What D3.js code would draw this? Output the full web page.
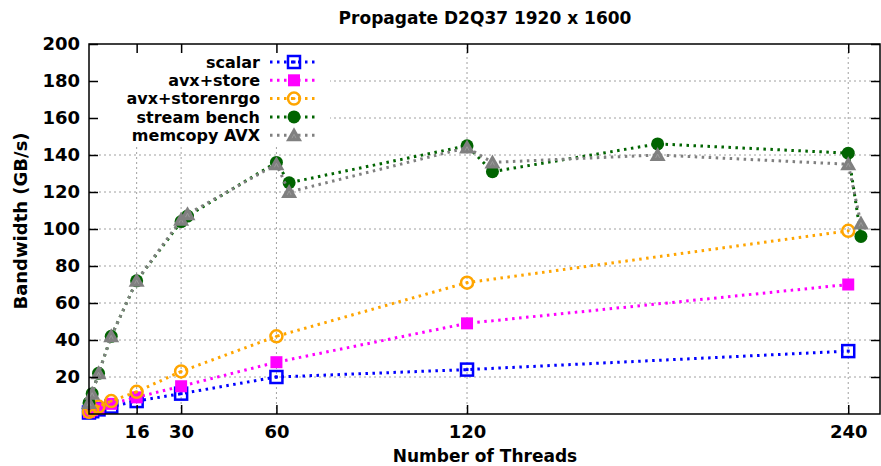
<!DOCTYPE html>
<html>
<head>
<meta charset="utf-8">
<script src="https://cdn.jsdelivr.net/npm/d3@7"></script>
<style>
  body { margin: 0; background: #fff; }
  text { font-family: "DejaVu Sans", Verdana, sans-serif; font-weight: bold; fill: #000; }
</style>
</head>
<body>
<svg id="svg" width="881" height="466"></svg>
<script>
// thread counts
const threadsLow = [1, 2, 4, 8, 16, 30, 60, 120, 240]
const threadsMem = [1, 2, 4, 8, 16, 30, 32, 60, 64, 120, 128, 180, 240, 244]

// bandwidth GB/s
const scalar = [0.8, 1.5, 2.5, 4, 7, 11, 20, 24, 34]
const avxStore = [1, 2, 3, 5.5, 9, 15, 28, 49, 70]
const avxStoreNrgo = [1.2, 2.3, 4, 7, 12, 23, 42, 71, 99]
const streamBench = [6, 11, 22, 42, 72, 104, 107, 136, 125, 145, 131, 146, 141, 96]
const memcopyAvx = [6, 11, 22, 42, 72, 105, 108, 135, 120, 144, 136, 140, 135, 103]

const xTicks = [16, 30, 60, 120, 240]
const yTicks = [20, 40, 60, 80, 100, 120, 140, 160, 180, 200]

const series = [
  { name: 'scalar', x: threadsLow, y: scalar, color: '#0000ff', marker: 'openSquare' },
  { name: 'avx+store', x: threadsLow, y: avxStore, color: '#ff00ff', marker: 'square' },
  { name: 'avx+storenrgo', x: threadsLow, y: avxStoreNrgo, color: '#ffa500', marker: 'openCircle' },
  { name: 'stream bench', x: threadsMem, y: streamBench, color: '#006400', marker: 'circle' },
  { name: 'memcopy AVX', x: threadsMem, y: memcopyAvx, color: '#808080', marker: 'triangle' }
]

const margin = { top: 44, right: 1, bottom: 52, left: 89 }
const width = 881
const height = 466

const xScale = d3.scaleLinear()
  .domain([1, 250])
  .range([margin.left, width - margin.right])

const yScale = d3.scaleLinear()
  .domain([0, 200])
  .range([height - margin.bottom, margin.top])

const svg = d3.select('#svg')

// grid
const grid = svg.append('g')
  .attr('stroke', '#a0a0a0')
  .attr('stroke-width', 1)
  .attr('stroke-dasharray', '2,3')
grid.selectAll('.hg')
  .data(yTicks.filter(d => d < 200))
  .enter()
  .append('line')
  .attr('x1', margin.left)
  .attr('x2', width - margin.right)
  .attr('y1', d => yScale(d))
  .attr('y2', d => yScale(d))
grid.selectAll('.vg')
  .data(xTicks)
  .enter()
  .append('line')
  .attr('x1', d => xScale(d))
  .attr('x2', d => xScale(d))
  .attr('y1', yScale(0))
  .attr('y2', yScale(200))

// legend background (opaque key)
const legend = svg.append('g')
legend.append('rect')
  .attr('x', margin.left + 1)
  .attr('y', margin.top + 1)
  .attr('width', 240)
  .attr('height', 100)
  .attr('fill', '#fff')

const drawMarker = (g, type, color) => {
  if (type === 'openSquare') {
    g.append('rect').attr('x', -6).attr('y', -6).attr('width', 12).attr('height', 12)
      .attr('fill', 'none').attr('stroke', color).attr('stroke-width', 2.5)
    g.append('rect').attr('x', -1.5).attr('y', -1.5).attr('width', 3).attr('height', 3).attr('fill', color)
  } else if (type === 'square') {
    g.append('rect').attr('x', -6).attr('y', -6).attr('width', 12).attr('height', 12).attr('fill', color)
  } else if (type === 'openCircle') {
    g.append('circle').attr('r', 6).attr('fill', 'none').attr('stroke', color).attr('stroke-width', 2.5)
    g.append('circle').attr('r', 1.5).attr('fill', color)
  } else if (type === 'circle') {
    g.append('circle').attr('r', 6.5).attr('fill', color)
  } else {
    g.append('path').attr('d', 'M0,-8L8,6L-8,6Z').attr('fill', color)
    g.append('path').attr('d', 'M-2,3L0,-1L2,3').attr('fill', 'none').attr('stroke', '#9a9a9a').attr('stroke-width', 1)
  }
}

const line = d3.line()
  .x(d => xScale(d[0]))
  .y(d => yScale(d[1]))

series.forEach(s => {
  const pts = s.x.map((t, i) => [t, s.y[i]])
  svg.append('path')
    .datum(pts)
    .attr('d', line)
    .attr('fill', 'none')
    .attr('stroke', s.color)
    .attr('stroke-width', 3)
    .attr('stroke-dasharray', '2.5,4.5')
  svg.append('g')
    .selectAll('g')
    .data(pts)
    .enter()
    .append('g')
    .attr('transform', d => `translate(${xScale(d[0])},${yScale(d[1])})`)
    .each(function () { drawMarker(d3.select(this), s.marker, s.color) })
})

// legend entries
series.forEach((s, i) => {
  const y = 62 + i * 18.3
  legend.append('text')
    .attr('x', 260)
    .attr('y', y)
    .attr('dy', '0.35em')
    .attr('text-anchor', 'end')
    .attr('font-size', 16)
    .text(s.name)
  legend.append('line')
    .attr('x1', 270).attr('x2', 318)
    .attr('y1', y).attr('y2', y)
    .attr('stroke', s.color)
    .attr('stroke-width', 3)
    .attr('stroke-dasharray', '2.5,4.5')
  drawMarker(legend.append('g').attr('transform', `translate(294,${y})`), s.marker, s.color)
})

// border
svg.append('rect')
  .attr('x', margin.left)
  .attr('y', margin.top)
  .attr('width', width - margin.right - margin.left)
  .attr('height', height - margin.bottom - margin.top)
  .attr('fill', 'none')
  .attr('stroke', '#000')
  .attr('stroke-width', 1.5)

// axes (ticks inward, mirrored)
const yAxis = d3.axisLeft(yScale).tickValues(yTicks).tickSize(-9).tickPadding(9)
const yAxisR = d3.axisRight(yScale).tickValues(yTicks).tickSize(-9).tickFormat('')
const xAxis = d3.axisBottom(xScale).tickValues(xTicks).tickSize(-9).tickPadding(11)
const xAxisT = d3.axisTop(xScale).tickValues(xTicks).tickSize(-9).tickFormat('')

const styleAxis = g => {
  g.select('.domain').remove()
  g.selectAll('.tick line').attr('stroke', '#000').attr('stroke-width', 1.5)
  g.selectAll('.tick text').attr('font-size', 18).attr('font-family', '"DejaVu Sans", Verdana, sans-serif')
}

svg.append('g').attr('transform', `translate(${margin.left},0)`).call(yAxis).call(styleAxis)
svg.append('g').attr('transform', `translate(${width - margin.right},0)`).call(yAxisR).call(styleAxis)
svg.append('g').attr('transform', `translate(0,${height - margin.bottom})`).call(xAxis).call(styleAxis)
svg.append('g').attr('transform', `translate(0,${margin.top})`).call(xAxisT).call(styleAxis)

// titles
svg.append('text')
  .attr('x', 485).attr('y', 24)
  .attr('text-anchor', 'middle')
  .attr('font-size', 17)
  .text('Propagate D2Q37 1920 x 1600')

svg.append('text')
  .attr('x', 485).attr('y', 462)
  .attr('text-anchor', 'middle')
  .attr('font-size', 17)
  .text('Number of Threads')

svg.append('text')
  .attr('transform', 'translate(27,221) rotate(-90)')
  .attr('text-anchor', 'middle')
  .attr('font-size', 18)
  .text('Bandwidth (GB/s)')
</script>
</body>
</html>
